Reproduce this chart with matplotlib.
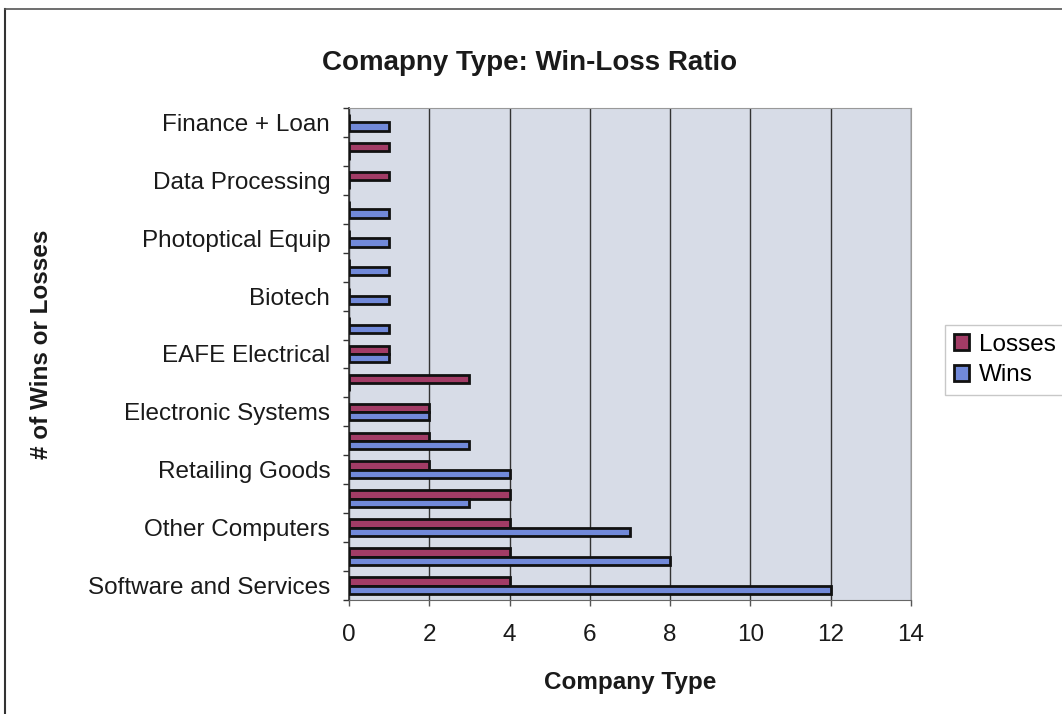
import numpy as np
import matplotlib
matplotlib.use("Agg")
import matplotlib.pyplot as plt
from matplotlib.lines import Line2D

plt.rcParams['font.family'] = ['Liberation Sans', 'DejaVu Sans']

# Datos (de abajo hacia arriba)
categorias = ["Software and Services", "", "Other Computers", "", "Retailing Goods", "",
              "Electronic Systems", "", "EAFE Electrical", "", "Biotech", "",
              "Photoptical Equip", "", "Data Processing", "", "Finance + Loan"]
wins = [12, 8, 7, 3, 4, 3, 2, 0, 1, 1, 1, 1, 1, 1, 0, 0, 1]
losses = [4, 4, 4, 4, 2, 2, 2, 3, 1, 0, 0, 0, 0, 0, 1, 1, 0]
x_ticks = [0, 2, 4, 6, 8, 10, 12, 14]

color_losses = "#a23c66"
color_wins = "#7189d9"
fondo = "#d7dce7"

fig = plt.figure(figsize=(10.62, 7.14), dpi=100)
ax = fig.add_axes([349/1062, 1 - 600/714, (911 - 349)/1062, (600 - 108)/714])
ax.set_facecolor(fondo)

y = np.arange(len(categorias))
alto = 1 / 3.5  # gap width 150%

ax.barh(y + alto/2, losses, height=alto, color=color_losses, edgecolor="#111111",
        linewidth=2, label="Losses", zorder=3)
ax.barh(y - alto/2, wins, height=alto, color=color_wins, edgecolor="#111111",
        linewidth=2, label="Wins", zorder=3)

ax.set_xlim(0, 14)
ax.set_ylim(-0.5, len(categorias) - 0.5)
ax.set_xticks(x_ticks)
ax.set_yticks(y)
ax.set_yticklabels(categorias)
ax.set_yticks(np.arange(-0.5, len(categorias)), minor=True)

ax.tick_params(axis="y", which="major", length=0, pad=13.5, labelsize=17.5, colors="#1a1a1a")
ax.tick_params(axis="y", which="minor", length=4, width=1, color="#333333")
ax.tick_params(axis="x", which="major", length=4, width=1, pad=13, labelsize=17.5,
               colors="#1a1a1a", color="#555555")

ax.grid(axis="x", color="#333333", linewidth=1, zorder=1)
ax.set_axisbelow(True)

for lado in ["top", "right"]:
    ax.spines[lado].set_color("#999999")
ax.spines["left"].set_color("#333333")
ax.spines["bottom"].set_color("#666666")
ax.spines["left"].set_linewidth(1.2)

ax.set_xlabel("Company Type", fontsize=17.5, fontweight="bold", labelpad=18, color="#1a1a1a")
fig.text(42/1062, 1 - 344/714, "# of Wins or Losses", rotation=90, ha="center", va="center",
         fontsize=17.5, fontweight="bold", color="#1a1a1a")
fig.text(530/1062, 1 - 63/714, "Comapny Type: Win-Loss Ratio", ha="center", va="center",
         fontsize=20, fontweight="bold", color="#1a1a1a")

# Leyenda (Losses arriba)
handles, labels = ax.get_legend_handles_labels()
leg = fig.legend(handles, labels, loc="center left", bbox_to_anchor=(945/1062, 1 - 360/714),
                 fontsize=17.5, frameon=True, fancybox=False, handlelength=0.65,
                 handleheight=0.65, handletextpad=0.4, labelspacing=0.35, borderpad=0.35,
                 borderaxespad=0)
leg.get_frame().set_edgecolor("#bbbbbb")
leg.get_frame().set_linewidth(1)

# Borde exterior
fig.add_artist(Line2D([5/1062, 5/1062], [0, 1 - 9/714], transform=fig.transFigure,
                      color="#333333", linewidth=1.5))
fig.add_artist(Line2D([5/1062, 1], [1 - 9/714, 1 - 9/714], transform=fig.transFigure,
                      color="#555555", linewidth=1.2))

fig.savefig("out.png", dpi=100)
